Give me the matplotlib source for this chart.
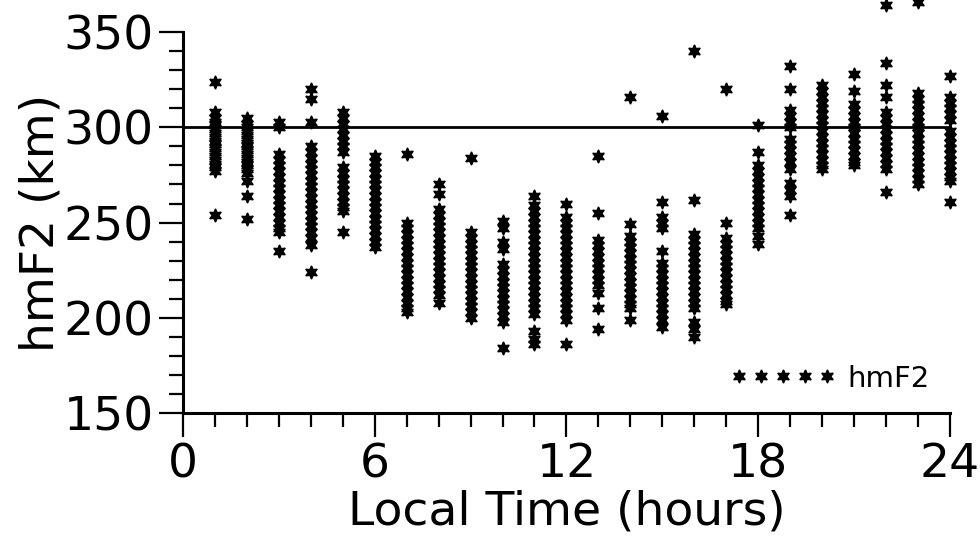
import matplotlib.pyplot as plt
from matplotlib.ticker import MultipleLocator

# hmF2 readings (km) for each local hour
h01 = [324, 308, 305, 303, 301, 299, 297, 295, 293, 291, 289, 287, 285, 283, 281, 279, 277, 254]
h02 = [305, 302, 300, 298, 296, 294, 292, 290, 288, 286, 284, 282, 280, 278, 276, 272, 264, 252]
h03 = [303, 300, 286, 283, 280, 277, 274, 271, 268, 265, 262, 259, 256, 253, 250, 247, 245, 235]
h04 = [320, 315, 303, 290, 287, 284, 281, 278, 275, 272, 269, 266, 263, 260, 257, 254, 251, 248, 245, 242, 238, 224]
h05 = [308, 305, 302, 299, 296, 293, 290, 287, 279, 276, 273, 270, 267, 264, 261, 258, 256, 245]
h06 = [285, 282, 279, 276, 273, 270, 267, 264, 261, 258, 255, 252, 249, 246, 243, 240, 237]
h07 = [286, 250, 247, 244, 241, 238, 235, 232, 229, 226, 223, 220, 217, 214, 211, 208, 205, 203]
h08 = [270, 265, 257, 254, 251, 248, 245, 242, 239, 236, 233, 230, 227, 224, 221, 218, 215, 212, 208]
h09 = [284, 245, 242, 239, 236, 233, 230, 227, 224, 221, 218, 215, 212, 209, 206, 203, 200]
h10 = [251, 247, 240, 236, 228, 225, 222, 219, 216, 213, 210, 207, 204, 201, 198, 184]
h11 = [264, 259, 256, 253, 250, 247, 244, 241, 238, 235, 232, 229, 226, 223, 220, 217, 214, 211, 208, 205, 202, 193, 189, 186]
h12 = [260, 253, 250, 247, 244, 241, 238, 235, 232, 229, 226, 223, 220, 217, 214, 211, 208, 205, 202, 199, 186]
h13 = [285, 255, 241, 238, 235, 232, 229, 226, 223, 220, 217, 213, 205, 194]
h14 = [316, 249, 243, 240, 237, 234, 231, 228, 225, 222, 219, 216, 213, 210, 207, 205, 199]
h15 = [306, 261, 253, 250, 247, 235, 229, 226, 223, 220, 217, 214, 211, 208, 205, 202, 199, 195]
h16 = [340, 262, 244, 241, 238, 235, 232, 229, 226, 223, 220, 217, 214, 211, 208, 205, 198, 194, 190]
h17 = [320, 250, 242, 239, 236, 233, 230, 227, 224, 221, 218, 215, 212, 209, 207]
h18 = [301, 287, 280, 277, 274, 271, 268, 265, 262, 259, 256, 253, 250, 247, 243, 239]
h19 = [332, 320, 309, 306, 303, 300, 294, 291, 288, 285, 282, 278, 271, 267, 264, 254]
h20 = [322, 319, 316, 313, 310, 307, 304, 301, 298, 295, 292, 289, 286, 283, 280, 278]
h21 = [328, 319, 312, 309, 306, 303, 300, 297, 294, 291, 288, 285, 282, 280]
h22 = [364, 334, 322, 316, 308, 305, 302, 299, 296, 293, 290, 287, 284, 281, 278, 266]
h23 = [366, 318, 315, 312, 309, 306, 303, 300, 297, 294, 291, 288, 285, 282, 279, 276, 273, 270]
h24 = [327, 316, 313, 310, 307, 304, 298, 295, 292, 289, 286, 283, 280, 277, 274, 272, 261]

hours = list(range(1, 25))
columns = [h01, h02, h03, h04, h05, h06, h07, h08, h09, h10, h11, h12,
           h13, h14, h15, h16, h17, h18, h19, h20, h21, h22, h23, h24]

ref_level = 300
xticks = [0, 6, 12, 18, 24]
yticks = [150, 200, 250, 300, 350]

xs = []
ys = []
for hr, col in zip(hours, columns):
    xs += [hr] * len(col)
    ys += col

fig = plt.figure(figsize=(9.8, 5.38), dpi=100)
ax = fig.add_axes([0.1867, 0.2323, 0.7826, 0.708])

ax.plot(xs, ys, linestyle='none', marker=(6, 1, 0), markersize=9.5,
        color='black', clip_on=False, label='hmF2')
ax.axhline(ref_level, color='black', linewidth=2)

ax.set_xlim(0, 24)
ax.set_ylim(150, 350)
ax.set_xticks(xticks)
ax.set_yticks(yticks)
ax.xaxis.set_minor_locator(MultipleLocator(1))
ax.yaxis.set_minor_locator(MultipleLocator(10))

for side in ['top', 'right']:
    ax.spines[side].set_visible(False)
for side in ['left', 'bottom']:
    ax.spines[side].set_linewidth(2.2)

ax.tick_params(which='major', direction='out', length=17, width=1.6,
               labelsize=34, pad=4)
ax.tick_params(which='minor', direction='out', length=10, width=1.6)

ax.set_xlabel('Local Time (hours)', fontsize=34, labelpad=2)
ax.set_ylabel('hmF2 (km)', fontsize=34, labelpad=0)

ax.legend(loc='lower right', frameon=False, numpoints=5, handlelength=3.6,
          handletextpad=0.4, fontsize=21, borderaxespad=0.3)

plt.savefig('out.png')
